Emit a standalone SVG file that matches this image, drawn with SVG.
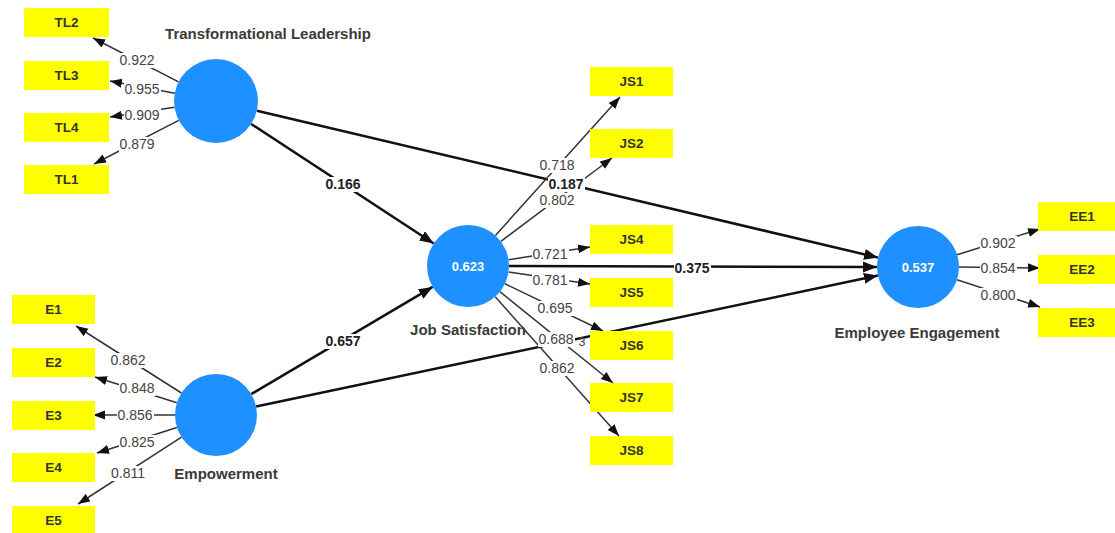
<svg xmlns="http://www.w3.org/2000/svg" width="1115" height="533" viewBox="0 0 1115 533">
<style>
.box{fill:#FFFF00;}
.btxt{font-family:"Liberation Sans",Arial,sans-serif;font-size:13.5px;font-weight:bold;fill:#333;text-anchor:middle;}
.lv{fill:#1E90FF;}
.lvv{font-family:"Liberation Sans",Arial,sans-serif;font-size:13px;font-weight:bold;fill:#fff;text-anchor:middle;}
.title{font-family:"Liberation Sans",Arial,sans-serif;font-size:15px;font-weight:bold;fill:#3a3a3a;text-anchor:middle;}
.ld{stroke:#333;stroke-width:1.5;fill:none;marker-end:url(#ah);}
.st{stroke:#111;stroke-width:2.5;fill:none;marker-end:url(#ahb);}
.bg{fill:#fff;}
.lab{font-family:"Liberation Sans",Arial,sans-serif;font-size:14px;fill:#444;text-anchor:middle;}
.labb{font-family:"Liberation Sans",Arial,sans-serif;font-size:14px;font-weight:bold;fill:#222;text-anchor:middle;}
</style>
<defs>
<marker id="ah" markerUnits="userSpaceOnUse" markerWidth="13" markerHeight="10" refX="12" refY="4.5" orient="auto"><path d="M0,0 L12,4.5 L0,9 z" fill="#111"/></marker>
<marker id="ahb" markerUnits="userSpaceOnUse" markerWidth="15" markerHeight="12" refX="14" refY="5.5" orient="auto"><path d="M0,0 L14,5.5 L0,11 z" fill="#111"/></marker>
</defs>
<rect width="1115" height="533" fill="#fff"/>

<g id="connectors">
<!-- structural paths -->
<line class="st" x1="251.2" y1="124" x2="433.7" y2="243.5"/>
<line class="st" x1="256.9" y1="110.7" x2="878.1" y2="257.6"/>
<line class="st" x1="251.3" y1="394.1" x2="432.7" y2="286.9"/>
<line class="st" x1="256.1" y1="406.5" x2="877.9" y2="275.5"/>
<line class="st" x1="509" y1="266" x2="877" y2="267"/>
<!-- TL loadings -->
<line class="ld" x1="178.6" y1="81.8" x2="93" y2="38"/>
<line class="ld" x1="174.8" y1="93.2" x2="110" y2="81"/>
<line class="ld" x1="174.5" y1="107.3" x2="110" y2="117"/>
<line class="ld" x1="178.7" y1="120.3" x2="94" y2="164"/>
<!-- E loadings -->
<line class="ld" x1="181.4" y1="393" x2="76" y2="326"/>
<line class="ld" x1="176.9" y1="402.7" x2="95" y2="377"/>
<line class="ld" x1="175" y1="415" x2="93" y2="415"/>
<line class="ld" x1="176.9" y1="427.5" x2="97" y2="453"/>
<line class="ld" x1="181.5" y1="437.2" x2="78" y2="504"/>
<!-- JS loadings -->
<line class="ld" x1="495.4" y1="235.5" x2="620" y2="97"/>
<line class="ld" x1="500.8" y1="241.4" x2="612" y2="158"/>
<line class="ld" x1="508.5" y1="259.7" x2="590" y2="247"/>
<line class="ld" x1="508.6" y1="272" x2="590" y2="284"/>
<line class="ld" x1="504.9" y1="283.8" x2="603" y2="331"/>
<line class="ld" x1="499.9" y1="291.7" x2="613" y2="383"/>
<line class="ld" x1="495.2" y1="296.7" x2="619" y2="436"/>
<!-- EE loadings -->
<line class="ld" x1="957" y1="254.8" x2="1040" y2="229"/>
<line class="ld" x1="959" y1="267" x2="1040" y2="268"/>
<line class="ld" x1="957" y1="279.8" x2="1040" y2="307"/>

<!-- label backgrounds -->
<rect class="bg" x="325" y="177" width="37" height="15"/>
<rect class="bg" x="548" y="177" width="37" height="15"/>
<rect class="bg" x="325" y="334" width="37" height="15"/>
<rect class="bg" x="674" y="261" width="37" height="15"/>
<rect class="bg" x="119" y="53" width="37" height="15"/>
<rect class="bg" x="124" y="82" width="37" height="15"/>
<rect class="bg" x="124" y="108" width="37" height="15"/>
<rect class="bg" x="119" y="137" width="37" height="15"/>
<rect class="bg" x="110" y="353" width="37" height="15"/>
<rect class="bg" x="119" y="381" width="37" height="15"/>
<rect class="bg" x="117" y="408" width="37" height="15"/>
<rect class="bg" x="119" y="435" width="37" height="15"/>
<rect class="bg" x="110" y="466" width="37" height="15"/>
<rect class="bg" x="539" y="158" width="37" height="15"/>
<rect class="bg" x="539" y="193" width="37" height="15"/>
<rect class="bg" x="532" y="247" width="37" height="15"/>
<rect class="bg" x="532" y="273" width="37" height="15"/>
<rect class="bg" x="537" y="301" width="37" height="15"/>
<rect class="bg" x="538" y="332" width="37" height="15"/>
<rect class="bg" x="539" y="361" width="37" height="15"/>
<rect class="bg" x="980" y="236" width="37" height="15"/>
<rect class="bg" x="980" y="261" width="37" height="15"/>
<rect class="bg" x="980" y="288" width="37" height="15"/>

<!-- labels -->
<text class="labb" x="343" y="189">0.166</text>
<text class="labb" x="566" y="189">0.187</text>
<text class="labb" x="343" y="346">0.657</text>
<text class="labb" x="692" y="273">0.375</text>

<text class="lab" x="137" y="65">0.922</text>
<text class="lab" x="142" y="94">0.955</text>
<text class="lab" x="142" y="120">0.909</text>
<text class="lab" x="137" y="149">0.879</text>

<text class="lab" x="128" y="365">0.862</text>
<text class="lab" x="137" y="393">0.848</text>
<text class="lab" x="135" y="420">0.856</text>
<text class="lab" x="137" y="447">0.825</text>
<text class="lab" x="128" y="478">0.811</text>

<text class="lab" x="557" y="170">0.718</text>
<text class="lab" x="557" y="205">0.802</text>
<text class="lab" x="550" y="259">0.721</text>
<text class="lab" x="550" y="285">0.781</text>
<text class="lab" x="555" y="313">0.695</text>
<text class="lab" x="556" y="344">0.688</text>
<text class="lab" x="582" y="346" style="font-size:12px">3</text>
<text class="lab" x="557" y="373">0.862</text>

<text class="lab" x="998" y="248">0.902</text>
<text class="lab" x="998" y="273">0.854</text>
<text class="lab" x="998" y="300">0.800</text>
</g>

<g id="TL">
<circle class="lv" cx="216" cy="101" r="42"/>
<text class="title" x="268" y="39">Transformational Leadership</text>
</g>
<g id="EMP">
<circle class="lv" cx="216" cy="415" r="41"/>
<text class="title" x="226" y="479">Empowerment</text>
</g>
<g id="JS">
<circle class="lv" cx="468" cy="266" r="41"/>
<text class="lvv" x="468" y="271">0.623</text>
<text class="title" x="468" y="335">Job Satisfaction</text>
</g>
<g id="EE">
<circle class="lv" cx="918" cy="267" r="41"/>
<text class="lvv" x="918" y="272">0.537</text>
<text class="title" x="917" y="338">Employee Engagement</text>
</g>

<g id="TL2"><rect class="box" x="24" y="8" width="85" height="29"/><text class="btxt" x="66.5" y="27">TL2</text></g>
<g id="TL3"><rect class="box" x="24" y="61" width="85" height="29"/><text class="btxt" x="66.5" y="80">TL3</text></g>
<g id="TL4"><rect class="box" x="24" y="113" width="85" height="29"/><text class="btxt" x="66.5" y="132">TL4</text></g>
<g id="TL1"><rect class="box" x="24" y="165" width="85" height="29"/><text class="btxt" x="66.5" y="184">TL1</text></g>

<g id="E1"><rect class="box" x="12" y="295" width="83" height="29"/><text class="btxt" x="53.5" y="314">E1</text></g>
<g id="E2"><rect class="box" x="12" y="348" width="83" height="29"/><text class="btxt" x="53.5" y="367">E2</text></g>
<g id="E3"><rect class="box" x="12" y="401" width="83" height="29"/><text class="btxt" x="53.5" y="420">E3</text></g>
<g id="E4"><rect class="box" x="12" y="453" width="83" height="29"/><text class="btxt" x="53.5" y="472">E4</text></g>
<g id="E5"><rect class="box" x="12" y="506" width="83" height="29"/><text class="btxt" x="53.5" y="525">E5</text></g>

<g id="JS1"><rect class="box" x="590" y="67" width="83" height="29"/><text class="btxt" x="631.5" y="86">JS1</text></g>
<g id="JS2"><rect class="box" x="590" y="129" width="83" height="29"/><text class="btxt" x="631.5" y="148">JS2</text></g>
<g id="JS4"><rect class="box" x="590" y="225" width="83" height="29"/><text class="btxt" x="631.5" y="244">JS4</text></g>
<g id="JS5"><rect class="box" x="590" y="278" width="83" height="29"/><text class="btxt" x="631.5" y="297">JS5</text></g>
<g id="JS6"><rect class="box" x="590" y="331" width="83" height="29"/><text class="btxt" x="631.5" y="350">JS6</text></g>
<g id="JS7"><rect class="box" x="590" y="383" width="83" height="29"/><text class="btxt" x="631.5" y="402">JS7</text></g>
<g id="JS8"><rect class="box" x="590" y="436" width="83" height="29"/><text class="btxt" x="631.5" y="455">JS8</text></g>

<g id="EE1"><rect class="box" x="1038" y="202" width="90" height="29"/><text class="btxt" x="1082" y="221">EE1</text></g>
<g id="EE2"><rect class="box" x="1038" y="255" width="90" height="29"/><text class="btxt" x="1082" y="274">EE2</text></g>
<g id="EE3"><rect class="box" x="1038" y="308" width="90" height="29"/><text class="btxt" x="1082" y="327">EE3</text></g>
</svg>
